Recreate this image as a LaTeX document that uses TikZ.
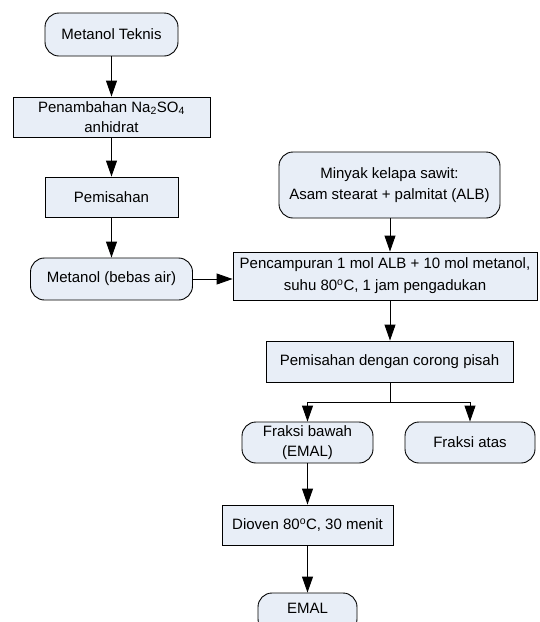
\documentclass[tikz,border=0pt]{standalone}
\usepackage{fontspec}
\setmainfont{Liberation Sans}
\usetikzlibrary{arrows.meta}
\definecolor{boxfill}{HTML}{E8EEF7}
\begin{document}
\begin{tikzpicture}[x=1pt,y=-1pt,
  font=\fontsize{15}{20.5}\selectfont,
  base/.style={draw=black,line width=0.9pt,fill=boxfill,align=center,inner sep=0pt},
  proc/.style={base},
  term/.style={base,rounded corners=14pt},
  arr/.style={-{Triangle[width=11pt,length=16pt]},line width=0.9pt},
  ln/.style={line width=0.9pt}]
\useasboundingbox[fill=white] (0,0) rectangle (540,622);
\begin{scope}
\clip (0,0) rectangle (540,622);
\node[term,minimum width=133pt,minimum height=43pt] (mt) at (111.5,34.5) {Metanol Teknis};
\node[proc,minimum width=197pt,minimum height=40pt] (pn) at (111.5,117) {Penambahan Na\textsubscript{2}SO\textsubscript{4}\\anhidrat};
\node[proc,minimum width=133pt,minimum height=40pt] (pm) at (111.5,197) {Pemisahan};
\node[term,minimum width=162pt,minimum height=42pt] (mb) at (111.5,279) {Metanol (bebas air)};
\node[term,minimum width=221pt,minimum height=66pt] (my) at (389.5,185) {Minyak kelapa sawit:\\[1pt]Asam stearat + palmitat (ALB)};
\node[proc,minimum width=304pt,minimum height=48pt] (pc) at (385,276) {Pencampuran 1 mol ALB + 10 mol metanol,\\[1.5pt]suhu 80\textsuperscript{o}C, 1 jam pengadukan};
\node[proc,minimum width=247pt,minimum height=41pt] (ps) at (389.5,361.5) {Pemisahan dengan corong pisah};
\node[term,minimum width=131pt,minimum height=41pt] (fb) at (307.5,442.5) {Fraksi bawah\\(EMAL)};
\node[term,minimum width=130pt,minimum height=41pt] (fa) at (470,442.5) {Fraksi atas};
\node[proc,minimum width=171pt,minimum height=40pt] (dv) at (307.5,525) {Dioven 80\textsuperscript{o}C, 30 menit};
\node[term,minimum width=99pt,minimum height=40pt] (em) at (307.5,613) {};
\node at (307.5,608) {EMAL};
\coordinate (sp) at (390,402);
\draw[arr] (mt) -- (pn);
\draw[arr] (pn) -- (pm);
\draw[arr] (pm) -- (mb);
\draw[arr] (mb) -- (pc.west |- mb.east);
\draw[arr] (my.south -| 390,0) -- (390,0 |- pc.north);
\draw[arr] (390,0 |- pc.south) -- (390,0 |- ps.north);
\draw[ln] (390,0 |- ps.south) -- (sp);
\draw[arr] (sp) -| (fb.north);
\draw[arr] (sp) -| (fa.north);
\draw[arr] (fb) -- (dv);
\draw[arr] (dv) -- (em);
\end{scope}
\end{tikzpicture}
\end{document}
